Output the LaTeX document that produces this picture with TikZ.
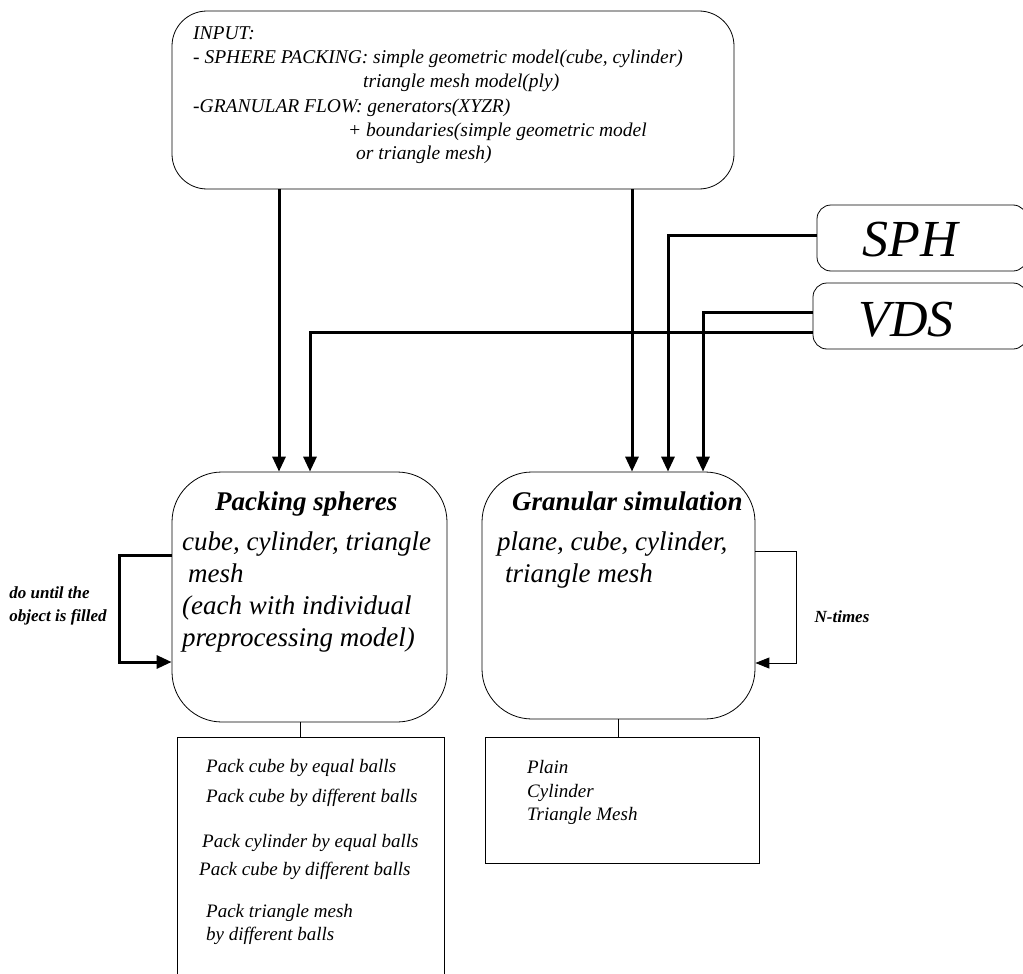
\documentclass[tikz,border=0pt]{standalone}
\usepackage{fontspec}
\setmainfont{Liberation Serif}
\usetikzlibrary{arrows.meta}
\begin{document}
\begin{tikzpicture}[x=1pt,y=-1pt,
  box/.style={draw, line width=0.8pt, inner sep=0pt, rectangle},
  txt/.style={anchor=base west, inner sep=0pt, font=\itshape},
  intxt/.style={txt, font=\itshape\fontsize{19.5}{19.5}\selectfont},
  bodytxt/.style={txt, font=\itshape\fontsize{27}{27}\selectfont},
  titletxt/.style={txt, font=\bfseries\itshape\fontsize{27}{27}\selectfont},
  listtxt/.style={txt, font=\itshape\fontsize{19}{19}\selectfont},
  looptxt/.style={font=\bfseries\itshape\fontsize{17}{23}\selectfont, inner sep=0pt},
  thick arrow/.style={line width=3pt, -{Triangle[length=15pt,width=13pt]}},
  thin arrow/.style={line width=0.9pt, -{Triangle[length=14pt,width=11pt]}}]
\useasboundingbox (0,0) rectangle (1023,974);
% boxes
\node[box, rounded corners=35pt, minimum width=562pt, minimum height=178pt] (input) at (453,100) {};
\node[box, rounded corners=14pt, minimum width=210pt, minimum height=66pt] (sph) at (922,238) {};
\node[box, rounded corners=14pt, minimum width=214pt, minimum height=66pt] (vds) at (920,316) {};
\node[box, rounded corners=50pt, minimum width=275pt, minimum height=250pt] (pack) at (309.5,597) {};
\node[box, rounded corners=50pt, minimum width=273pt, minimum height=247pt] (gran) at (618.5,595.5) {};
\draw[line width=0.8pt] (177,980) -- (177,737) -- (444,737) -- (444,980);
\node[box, minimum width=274pt, minimum height=126pt] (glist) at (622,800) {};
\coordinate (pl) at (300,737);
% texts
\node[intxt] (t1) at (193,40) {INPUT:};
\node[intxt] (t2) at (193,64) {- SPHERE PACKING: simple geometric model(cube, cylinder)};
\node[intxt] (t3) at (363,88) {triangle mesh model(ply)};
\node[intxt] (t4) at (193,112) {-GRANULAR FLOW: generators(XYZR)};
\node[intxt] (t5) at (348,136) {+ boundaries(simple geometric model};
\node[intxt] (t6) at (356,159) {or triangle mesh)};
\node[font=\itshape\fontsize{52}{52}\selectfont, inner sep=0pt] (sphT) at (910,240) {SPH};
\node[font=\itshape\fontsize{52}{52}\selectfont, inner sep=0pt] (vdsT) at (906,320) {VDS};
\node[titletxt] (pt) at (215,510) {Packing spheres};
\node[bodytxt] (p1) at (182,550) {cube, cylinder, triangle};
\node[bodytxt] (p2) at (188,582) {mesh};
\node[bodytxt] (p3) at (182,614) {(each with individual};
\node[bodytxt] (p4) at (182,646) {preprocessing model)};
\node[titletxt] (gt) at (512,510) {Granular simulation};
\node[bodytxt] (g1) at (497,550) {plane, cube, cylinder,};
\node[bodytxt] (g2) at (505,582) {triangle mesh};
\node[listtxt] (l1) at (206,772) {Pack cube by equal balls};
\node[listtxt] (l2) at (206,802) {Pack cube by different balls};
\node[listtxt] (l3) at (202,847) {Pack cylinder by equal balls};
\node[listtxt] (l4) at (199,875) {Pack cube by different balls};
\node[listtxt] (l5) at (206,917) {Pack triangle mesh};
\node[listtxt] (l6) at (206,940) {by different balls};
\node[listtxt] (r1) at (527,773) {Plain};
\node[listtxt] (r2) at (527,797) {Cylinder};
\node[listtxt] (r3) at (527,820) {Triangle Mesh};
\node[looptxt, align=left] (loopL) at (58,606) {do until the\\object is filled};
\node[looptxt] (loopR) at (842,617) {N-times};
% connectors
\draw[thick arrow] (input.south -| 279,0) -- (pack.north -| 279,0);
\draw[thick arrow] (input.south -| 632,0) -- (gran.north -| 632,0);
\draw[thick arrow] (sph.west |- 0,235) -- (668,235) -- (gran.north -| 668,0);
\draw[thick arrow] (vds.west |- 0,312) -- (703,312) -- (gran.north -| 703,0);
\draw[thick arrow] (vds.west |- 0,332) -- (310,332) -- (pack.north -| 310,0);
\draw[thick arrow] (pack.west |- 0,555) -- (119,555) -- (119,662) -- (pack.west |- 0,662);
\draw[thin arrow] (gran.east |- 0,551) -- (796,551) -- (796,663) -- (gran.east |- 0,663);
\draw[line width=0.8pt] (pack.south -| pl) -- (pl);
\draw[line width=0.8pt] (gran.south) -- (gran.south |- glist.north);
\end{tikzpicture}
\end{document}
